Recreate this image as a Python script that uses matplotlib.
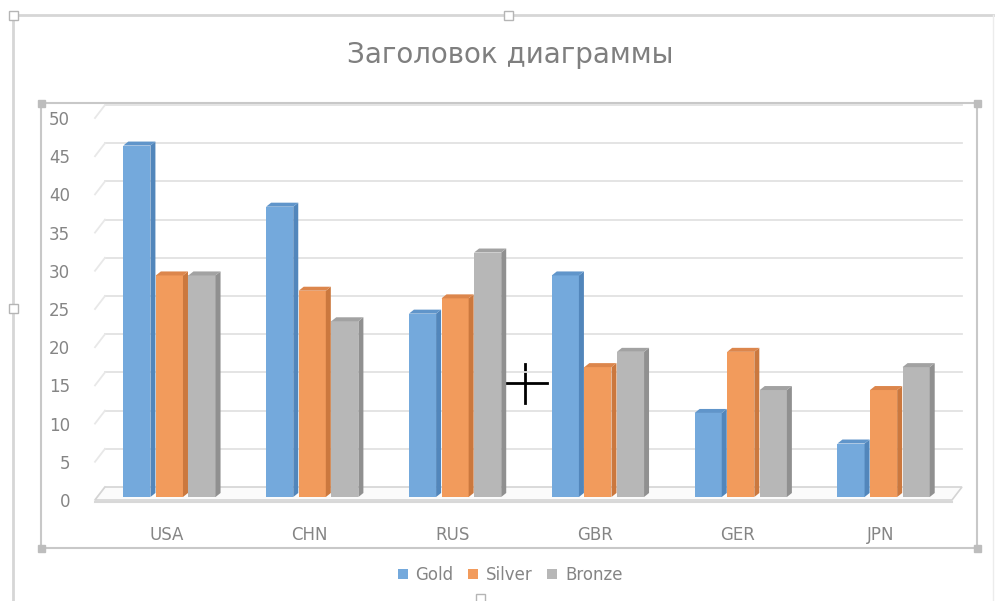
import matplotlib
matplotlib.use("Agg")
import matplotlib.pyplot as plt
from matplotlib.patches import Polygon, Rectangle, Patch
from matplotlib.lines import Line2D
import numpy as np

# ---- data ----
categories = ["USA", "CHN", "RUS", "GBR", "GER", "JPN"]
series_names = ["Gold", "Silver", "Bronze"]
gold = [46, 38, 24, 29, 11, 7]
silver = [29, 27, 26, 17, 19, 14]
bronze = [29, 23, 32, 19, 14, 17]
y_ticks = [0, 5, 10, 15, 20, 25, 30, 35, 40, 45, 50]
title_text = "Заголовок диаграммы"

front_colors = ["#74a9dc", "#f29b5c", "#b7b7b7"]
side_colors = ["#5286bb", "#cb783e", "#909090"]
top_colors = ["#6095ca", "#dc864c", "#a2a2a2"]

W, H = 996, 601
fig = plt.figure(figsize=(W / 100, H / 100), dpi=100)
fig.patch.set_facecolor("white")

# axes placed by pixel geometry
ax_left, ax_right = 95, 952
ax_top, ax_bot = 118, 500
ax = fig.add_axes([ax_left / W, 1 - ax_bot / H, (ax_right - ax_left) / W, (ax_bot - ax_top) / H])
ax.set_xlim(-0.5, len(categories) - 0.5)
ax.set_ylim(0, 50)
ax.set_facecolor("none")
for s in ax.spines.values():
    s.set_visible(False)
ax.set_yticks(y_ticks)
ax.set_xticks(range(len(categories)))
ax.set_xticklabels(categories)
ax.tick_params(axis="y", length=0, pad=18, labelsize=12, labelcolor="#858585")
ax.tick_params(axis="x", length=0, pad=19, labelsize=12, labelcolor="#858585")
for lab in ax.get_xticklabels() + ax.get_yticklabels():
    lab.set_family("DejaVu Sans")

fig.canvas.draw()
T = ax.transData

def disp(x, y):
    return T.transform((x, y))

# back-wall offsets (pixels, display: y up)
bdx, bdy = 10, 13
x0d = disp(-0.5, 0)[0]
x1d = disp(len(categories) - 0.5, 0)[0]

# gridlines on back wall and diagonal connectors
for t in y_ticks:
    yd = disp(0, t)[1]
    if t > 0:
        fig.add_artist(Line2D([x0d + bdx, x1d + bdx], [yd + bdy, yd + bdy],
                              transform=None, color="#e2e2e2", lw=1.3, zorder=1))
    fig.add_artist(Line2D([x0d, x0d + bdx], [yd, yd + bdy], transform=None,
                          color="#e8e8e8", lw=1.3, zorder=1))

# floor
yd0 = disp(0, 0)[1]
floor = Polygon([(x0d, yd0), (x1d, yd0), (x1d + bdx, yd0 + bdy), (x0d + bdx, yd0 + bdy)],
                closed=True, transform=None, facecolor="#fbfbfb", edgecolor="#d4d4d4", lw=1.2, zorder=1)
fig.add_artist(floor)
fig.add_artist(Line2D([x0d, x1d], [yd0 - 1.5, yd0 - 1.5], transform=None, color="#d8d8d8", lw=1.5, zorder=1))

# bars (3D-ish)
series = [gold, silver, bronze]
bw = 0.19
step = 0.228
odx, ody = 3, 3   # bar offset (mid depth)
sdx, sdy = 5, 4   # depth of bar faces
for k, vals in enumerate(series):
    for i, v in enumerate(vals):
        xc = i + (k - 1) * step
        xl, yb = disp(xc - bw / 2, 0)
        xr, yt = disp(xc + bw / 2, v)
        xl += odx; xr += odx; yb += ody; yt += ody
        front = Polygon([(xl, yb), (xr, yb), (xr, yt), (xl, yt)], closed=True, transform=None,
                        facecolor=front_colors[k], edgecolor="none", zorder=3)
        side = Polygon([(xr, yb), (xr + sdx, yb + sdy), (xr + sdx, yt + sdy), (xr, yt)], closed=True,
                       transform=None, facecolor=side_colors[k], edgecolor="none", zorder=3)
        top = Polygon([(xl, yt), (xr, yt), (xr + sdx, yt + sdy), (xl + sdx, yt + sdy)], closed=True,
                      transform=None, facecolor=top_colors[k], edgecolor="none", zorder=3)
        for p in (front, side, top):
            fig.add_artist(p)

# title
fig.text(510 / W, 1 - 55 / H, title_text, ha="center", va="center", fontsize=20,
         color="#7f7f7f", family="DejaVu Sans")

# legend
handles = [Patch(facecolor=front_colors[k], edgecolor="none", label=series_names[k]) for k in range(3)]
fig.legend(handles=handles, loc="center", bbox_to_anchor=(510 / W, 1 - 575 / H), ncol=3,
           frameon=False, handlelength=0.6, handleheight=0.6, columnspacing=0.9,
           handletextpad=0.45, prop={"family": "DejaVu Sans", "size": 12}, labelcolor="#858585")

# frames (selection outlines)
def line(xs, ys, color="#cfcfcf", lw=1.6):
    fig.add_artist(Line2D(xs, [H - y for y in ys], transform=None, color=color, lw=lw, zorder=0.5))

def handle(x, y, size=7, fc="#bdbdbd", ec="#bdbdbd"):
    fig.add_artist(Rectangle((x - size / 2, H - y - size / 2), size, size, transform=None,
                             facecolor=fc, edgecolor=ec, lw=1, zorder=2))

# outer chart frame
line([13, 993], [15, 15], color="#d6d6d6", lw=2)
line([13, 13], [15, 601], color="#d6d6d6", lw=2)
line([993, 993], [15, 601], color="#ececec", lw=1)
handle(13, 15, size=9, fc="white", ec="#b5b5b5")
handle(508, 15, size=9, fc="white", ec="#b5b5b5")
handle(13, 308, size=9, fc="white", ec="#b5b5b5")
handle(480, 598, size=9, fc="white", ec="#b5b5b5")

# plot-area frame
line([41, 977], [103, 103], color="#c8c8c8", lw=1.5)
line([41, 977], [548, 548], color="#c8c8c8", lw=1.5)
line([41, 41], [103, 548], color="#c8c8c8", lw=1.5)
line([977, 977], [103, 548], color="#c8c8c8", lw=1.5)
for (hx, hy) in [(41, 103), (977, 103), (41, 548), (977, 548)]:
    handle(hx, hy, size=7)

# mouse cursor
line([505, 547], [383, 383], color="black", lw=2)
line([525, 525], [364, 403], color="black", lw=2)

fig.savefig("out.png", dpi=100, facecolor="white")
